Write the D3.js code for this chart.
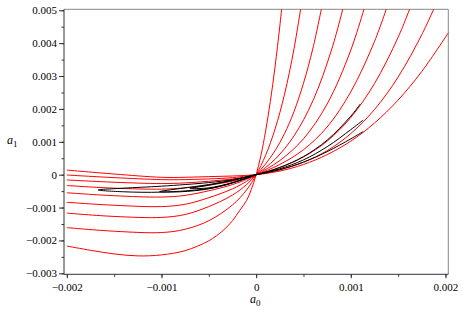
<!DOCTYPE html>
<html>
<head>
<meta charset="utf-8">
<script src="https://d3js.org/d3.v7.min.js"></script>
<style>
  body { margin: 0; background: #fff; }
  text { font-family: "Liberation Serif", "Times New Roman", serif; }
</style>
</head>
<body>
<script>
// tick values
var xTicks = [-0.002, -0.001, 0, 0.001, 0.002];
var yTicks = [-0.003, -0.002, -0.001, 0, 0.001, 0.002, 0.003, 0.004, 0.005];

// red family, [a0, a1] (k1 flattest ... k9 steepest)
var red1 = [[-0.002,0.00014],[-0.0015,0.00002],[-0.001,-0.00008],[-0.00075,-0.00008],[-0.0005,-0.00006],[-0.00025,-0.00004],[0,0],[0.00025,0.00011],[0.0005,0.00031],[0.00075,0.00061],[0.001,0.00102],[0.00125,0.00157],[0.0015,0.00227],[0.00175,0.00314],[0.00205,0.00440]];
var red2 = [[-0.002,-0.00001],[-0.0015,-0.00009],[-0.001,-0.00015],[-0.00075,-0.00015],[-0.0005,-0.00013],[-0.00025,-0.00009],[-0.0001,-0.00004],[0,0],[0.00025,0.00015],[0.0005,0.00038],[0.00075,0.00073],[0.001,0.00125],[0.00125,0.00198],[0.0015,0.00297],[0.00175,0.00426],[0.0019,0.00519]];
var red3 = [[-0.002,-0.00016],[-0.0015,-0.00023],[-0.001,-0.00027],[-0.00075,-0.00025],[-0.0005,-0.0002],[-0.00025,-0.00013],[-0.0001,-0.00007],[0,0],[0.00025,0.00022],[0.0005,0.00054],[0.00075,0.00102],[0.001,0.00174],[0.00125,0.00277],[0.0015,0.00418],[0.00165,0.00525]];
var red4 = [[-0.002,-0.00033],[-0.0015,-0.00041],[-0.001,-0.00044],[-0.00075,-0.0004],[-0.0005,-0.00032],[-0.00025,-0.0002],[-0.0001,-0.0001],[0,0],[0.00025,0.00031],[0.0005,0.00076],[0.00075,0.00145],[0.001,0.00252],[0.00125,0.00405],[0.0014,0.00525]];
var red5 = [[-0.002,-0.00055],[-0.0015,-0.00064],[-0.001,-0.00068],[-0.00075,-0.00063],[-0.0005,-0.00049],[-0.00025,-0.0003],[-0.0001,-0.00014],[0,0],[0.00025,0.00043],[0.0005,0.00109],[0.00075,0.00215],[0.001,0.00379],[0.0012,0.00563]];
var red6 = [[-0.002,-0.00084],[-0.0015,-0.00093],[-0.001,-0.00097],[-0.00075,-0.0009],[-0.0005,-0.0007],[-0.00025,-0.00043],[-0.0001,-0.0002],[0,0],[0.0002,0.00047],[0.0004,0.00118],[0.0006,0.00225],[0.0008,0.00383],[0.00095,0.00543]];
var red7 = [[-0.002,-0.00117],[-0.0015,-0.00127],[-0.001,-0.0013],[-0.00075,-0.00121],[-0.0005,-0.00097],[-0.00025,-0.00062],[-0.0001,-0.0003],[0,0],[0.0001,0.00033],[0.0002,0.00073],[0.0003,0.00125],[0.0004,0.00192],[0.0005,0.00278],[0.0006,0.00385],[0.0007,0.00519]];
var red8 = [[-0.002,-0.00161],[-0.0015,-0.00172],[-0.001,-0.00176],[-0.00075,-0.00166],[-0.0005,-0.0014],[-0.00025,-0.00092],[-0.0001,-0.00046],[0,0],[0.0001,0.00059],[0.0002,0.00139],[0.0003,0.00245],[0.0004,0.00383],[0.0005,0.00559]];
var red9 = [[-0.002,-0.00217],[-0.00175,-0.0023],[-0.0015,-0.00241],[-0.00125,-0.00247],[-0.001,-0.00244],[-0.00075,-0.00231],[-0.0005,-0.00201],[-0.00035,-0.0017],[-0.00025,-0.0014],[-0.000172,-0.00108],[-0.0001,-0.00078],[-0.00005,-0.000445],[0,0],[0.00005,0.00058],[0.0001,0.00133],[0.00015,0.00223],[0.0002,0.00329],[0.00025,0.00452],[0.0003,0.0059]];
var redCurves = [red1, red2, red3, red4, red5, red6, red7, red8, red9];

// black loops, in drawing order
var black1 = [[0.0011,0.00215],[0.001,0.00178],[0.00075,0.00105],[0.0005,0.00055],[0.00025,0.00022],[0,0],[-0.00025,-0.00015],[-0.0005,-0.00024],[-0.001,-0.00035],[-0.0014,-0.00041],[-0.00167,-0.000465],[-0.0014,-0.00052],[-0.001,-0.00053],[-0.0005,-0.00042],[-0.00025,-0.00025],[0,0]];
var black2 = [[0.00113,0.00166],[0.001,0.00137],[0.00075,0.00085],[0.0005,0.00045],[0.00025,0.00018],[0,0],[-0.00025,-0.00017],[-0.0005,-0.0003],[-0.0008,-0.00042],[-0.00102,-0.000516],[-0.0008,-0.00052],[-0.0005,-0.00043],[-0.00025,-0.00025],[0,0]];
var black3 = [[0.00113,0.00131],[0.001,0.00109],[0.00075,0.0007],[0.0005,0.00038],[0.00025,0.00015],[0,0],[-0.00025,-0.00017],[-0.0005,-0.00032],[-0.0007,-0.00042],[-0.0005,-0.0004],[-0.00025,-0.00024],[0,0]];
var blackCurves = [black1, black2, black3];

var W = 463, H = 314;
var pL = 64, pR = 448.3, pT = 9.3, pB = 274.3;
var serif = "'Liberation Serif', 'Times New Roman', serif";

var svg = d3.select("body").append("svg")
  .attr("width", W).attr("height", H);

var x = d3.scaleLinear().domain([-0.00203, 0.00203]).range([pL, pR]);
var y = d3.scaleLinear().domain([-0.00303, 0.00503]).range([pB, pT]);

function fmt(d) {
  if (Math.abs(d) < 1e-12) return "0";
  return (d < 0 ? "\u2212" : "") + Math.abs(d).toFixed(3);
}

svg.append("clipPath").attr("id", "clip")
  .append("rect").attr("x", pL).attr("y", pT)
  .attr("width", pR - pL).attr("height", pB - pT);

// frame (top and right)
svg.append("path")
  .attr("d", "M" + pL + "," + pT + "H" + pR + "V" + pB)
  .attr("fill", "none").attr("stroke", "#888").attr("stroke-width", 1);

var line = d3.line()
  .x(function(d) { return x(d[0]); })
  .y(function(d) { return y(d[1]); })
  .curve(d3.curveCatmullRom.alpha(0.5));

var plot = svg.append("g").attr("clip-path", "url(#clip)");

plot.selectAll("path.red").data(redCurves).enter()
  .append("path").attr("class", "red")
  .attr("d", line)
  .attr("fill", "none").attr("stroke", "#ff0000").attr("stroke-width", 1);

plot.selectAll("path.blk").data(blackCurves).enter()
  .append("path").attr("class", "blk")
  .attr("d", line)
  .attr("fill", "none").attr("stroke", "#000").attr("stroke-width", 1);

// y axis
var yMinor = d3.range(-0.003, 0.00501, 0.0005);
svg.append("g").attr("transform", "translate(" + pL + ",0)")
  .call(d3.axisLeft(y).tickValues(yMinor).tickSize(2.5).tickFormat(""))
  .call(function(g) { g.select(".domain").remove(); });
var gy = svg.append("g").attr("transform", "translate(" + pL + ",0)")
  .call(d3.axisLeft(y).tickValues(yTicks).tickSize(5).tickPadding(2).tickFormat(fmt));
gy.select(".domain").attr("d", "M0," + pT + "V" + pB);

// x axis
var xMinor = d3.range(-0.002, 0.00201, 0.0005);
svg.append("g").attr("transform", "translate(0," + pB + ")")
  .call(d3.axisBottom(x).tickValues(xMinor).tickSize(2.5).tickFormat(""))
  .call(function(g) { g.select(".domain").remove(); });
var gx = svg.append("g").attr("transform", "translate(0," + pB + ")")
  .call(d3.axisBottom(x).tickValues(xTicks).tickSize(4).tickPadding(5).tickFormat(fmt));
gx.select(".domain").attr("d", "M" + pL + ",0H" + pR);

svg.selectAll("g").attr("font-family", serif);
svg.selectAll(".tick text")
  .attr("font-family", serif)
  .attr("font-size", 11).attr("fill", "#000");
svg.selectAll(".tick line, .domain").attr("stroke", "#333");

// axis titles
var ya = svg.append("text").attr("x", 7).attr("y", 144)
  .attr("font-family", serif).attr("font-size", 12);
ya.append("tspan").style("font-style", "italic").text("a");
ya.append("tspan").attr("dy", 3).attr("font-size", 9).text("1");

var xa = svg.append("text").attr("x", 250).attr("y", 303)
  .attr("font-family", serif).attr("font-size", 12);
xa.append("tspan").style("font-style", "italic").text("a");
xa.append("tspan").attr("dy", 3).attr("font-size", 9).text("0");
</script>
</body>
</html>
